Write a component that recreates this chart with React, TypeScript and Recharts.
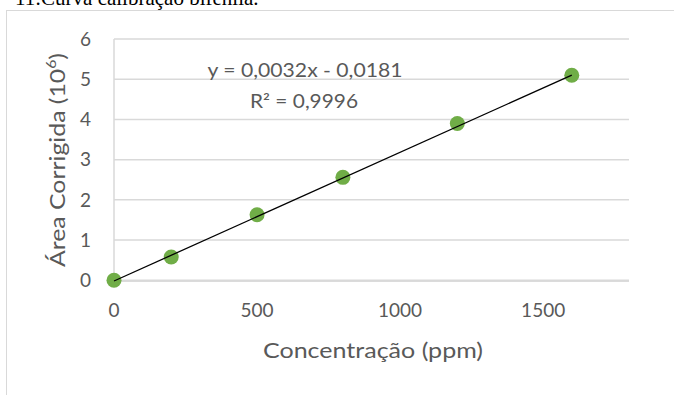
import React from 'react';
import { ScatterChart, Scatter, XAxis, YAxis, CartesianGrid } from 'recharts';

// calibration points
const concentrations = [0, 200, 500, 800, 1200, 1600];
const areas = [0, 0.58, 1.63, 2.56, 3.9, 5.1];

// linear trendline ends (from the fitted equation)
const trendX = [0, 1600];
const trendY = [-0.0181, 5.1019];

const xTicks = [0, 500, 1000, 1500];
const yTicks = [0, 1, 2, 3, 4, 5, 6];

const points = concentrations.map((x, i) => ({ x, y: areas[i] }));
const trend = trendX.map((x, i) => ({ x, y: trendY[i] }));

const FONT = 'Lato, "Noto Sans", sans-serif';
const GREY = '#595959';

const YTitle = () => (
  <text
    x={0}
    y={0}
    transform="translate(65, 160) rotate(-90)"
    textAnchor="middle"
    fill={GREY}
    fontFamily={FONT}
    fontSize={22}
    textLength={214}
    lengthAdjust="spacingAndGlyphs"
  >
    Área Corrigida (10
    <tspan fontSize={14} dy={-9}>6</tspan>
    <tspan dy={9}>)</tspan>
  </text>
);

const Dot = (props: any) => <circle cx={props.cx} cy={props.cy} r={7.5} fill="#70ad47" />;
const NoDot = () => <g />;

export default function App() {
  return (
    <div style={{ position: 'absolute', left: 0, top: 0, width: 674, height: 395, background: '#fff', overflow: 'hidden' }}>
      <div
        style={{
          position: 'absolute',
          left: 6,
          top: 10,
          width: 700,
          height: 420,
          border: '1px solid #d9d9d9',
          boxSizing: 'border-box',
        }}
      />
      <ScatterChart
        width={674}
        height={395}
        margin={{ top: 39, right: 45, bottom: 84, left: 74 }}
        style={{ position: 'absolute', left: 0, top: 0 }}
      >
        <CartesianGrid horizontal vertical={false} stroke="#d9d9d9" strokeWidth={1.5} />
        <XAxis
          type="number"
          dataKey="x"
          domain={[0, 1800]}
          ticks={xTicks}
          height={30}
          tickLine={false}
          tickSize={0}
          tickMargin={23}
          axisLine={{ stroke: '#d9d9d9', strokeWidth: 1.5 }}
          tick={{ fill: GREY, fontFamily: FONT, fontSize: 19 }}
        />
        <YAxis
          type="number"
          dataKey="y"
          domain={[0, 6]}
          ticks={yTicks}
          width={40}
          tickLine={false}
          tickSize={0}
          tickMargin={23}
          axisLine={{ stroke: '#d9d9d9', strokeWidth: 1.5 }}
          tick={{ fill: GREY, fontFamily: FONT, fontSize: 19 }}
        />
        <Scatter data={points} isAnimationActive={false} shape={Dot} />
        <Scatter
          data={trend}
          line={{ stroke: '#000', strokeWidth: 1.3 }}
          shape={NoDot}
          isAnimationActive={false}
        />
      </ScatterChart>
      <svg width={674} height={395} style={{ position: 'absolute', left: 0, top: 0, pointerEvents: 'none' }}>
        <text x={15} y={5} fontFamily='"Liberation Serif", serif' fontSize={21} fill="#000">
          11:Curva calibração bifenila.
        </text>
        <YTitle />
        <text
          x={373}
          y={358}
          textAnchor="middle"
          fill={GREY}
          fontFamily={FONT}
          fontSize={21}
          textLength={220}
          lengthAdjust="spacingAndGlyphs"
        >
          Concentração (ppm)
        </text>
        <text
          x={305}
          y={77}
          textAnchor="middle"
          fill={GREY}
          fontFamily={FONT}
          fontSize={18.5}
          textLength={195}
          lengthAdjust="spacingAndGlyphs"
        >
          y = 0,0032x - 0,0181
        </text>
        <text
          x={304}
          y={108}
          textAnchor="middle"
          fill={GREY}
          fontFamily={FONT}
          fontSize={18.5}
          textLength={108}
          lengthAdjust="spacingAndGlyphs"
        >
          R² = 0,9996
        </text>
      </svg>
    </div>
  );
}
